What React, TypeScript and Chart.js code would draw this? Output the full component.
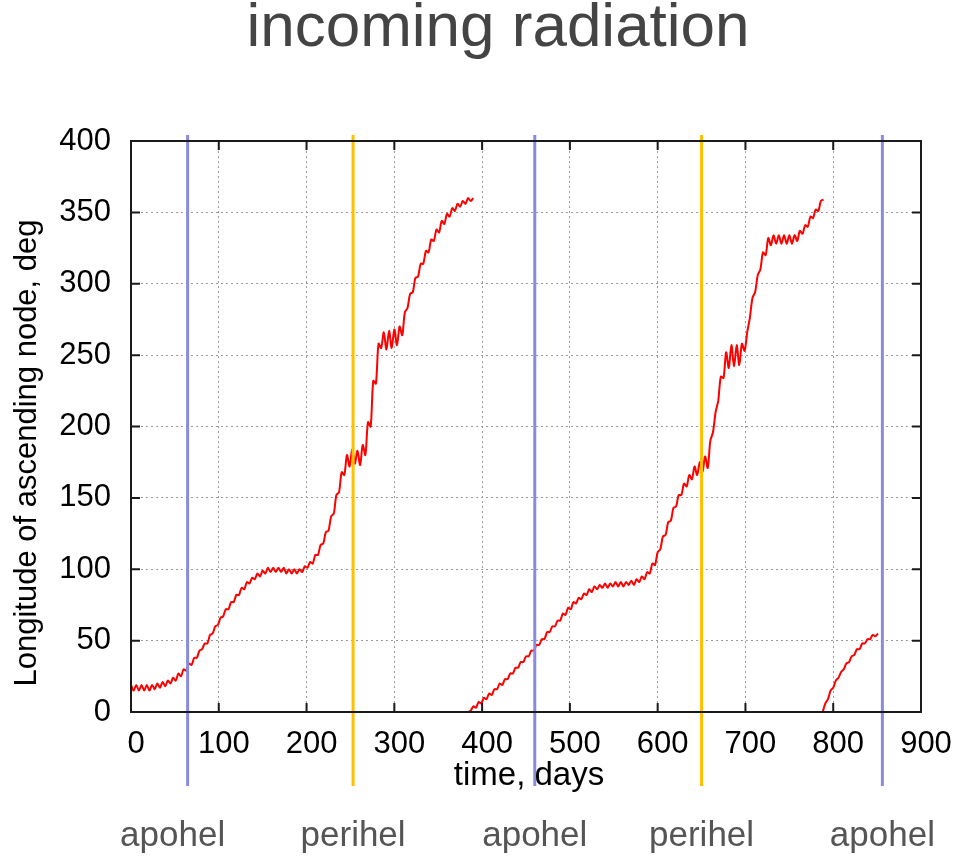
import React, { useEffect, useRef } from "react";
import { Chart, registerables } from "chart.js";

Chart.register(...registerables);

const CHART_TITLE = "incoming radiation";
const X_AXIS_TITLE = "time, days";
const Y_AXIS_TITLE = "Longitude of ascending node, deg";

const X_MIN = 0;
const X_MAX = 900;
const X_STEP = 100;
const Y_MIN = 0;
const Y_MAX = 400;
const Y_STEP = 50;

// [day, longitude deg]
const segment1: [number, number][] = [
  [0, 19], [3, 15], [6, 19], [9, 15], [12, 19], [15, 15], [18, 19], [21, 15], [24, 19], [27, 16],
  [30, 20], [33, 17], [36, 21], [39, 18], [42, 22], [45, 20], [48, 24], [51, 22], [54, 27], [57, 25],
  [60, 30], [63, 29], [66, 34], [69, 33], [72, 38], [75, 38], [78, 43], [81, 44], [84, 48], [87, 48],
  [90, 54], [93, 55], [96, 60], [99, 61], [102, 66], [105, 67], [108, 72], [111, 72], [114, 77], [117, 77],
  [120, 82], [123, 82], [126, 87], [129, 86], [132, 91], [135, 90], [138, 94], [141, 93], [144, 97], [147, 95],
  [150, 99], [153, 97], [156, 101], [159, 98], [162, 101], [165, 98], [168, 101], [171, 98], [174, 101], [177, 97],
  [180, 100], [183, 97], [186, 100], [189, 97], [192, 100], [195, 98], [198, 102], [201, 101], [204, 105], [207, 104],
  [210, 110], [213, 110], [216, 117], [219, 118], [222, 126], [225, 127], [228, 137], [231, 139], [234, 152], [237, 154],
  [240, 168], [243, 166], [246, 180], [249, 172], [252, 184], [255, 174], [258, 183], [261, 173], [264, 187], [267, 180],
  [270, 203], [273, 200], [276, 232], [279, 230], [282, 258], [285, 255], [288, 266], [291, 254], [294, 267], [297, 255],
  [300, 268], [303, 257], [306, 270], [309, 264], [312, 280], [315, 283], [318, 293], [321, 294], [324, 304], [327, 305],
  [330, 314], [333, 314], [336, 323], [339, 322], [342, 331], [345, 330], [348, 338], [351, 336], [354, 344], [357, 342],
  [360, 349], [363, 347], [366, 353], [369, 351], [372, 356], [375, 354], [378, 358], [381, 356], [384, 360], [387, 358],
  [390, 360],
];

const segment2: [number, number][] = [
  [384, 0], [387, 1], [390, 4], [393, 3], [396, 7], [399, 6], [402, 10], [405, 9], [408, 13], [411, 12],
  [414, 16], [417, 16], [420, 20], [423, 19], [426, 23], [429, 23], [432, 27], [435, 27], [438, 31], [441, 31],
  [444, 35], [447, 35], [450, 39], [453, 39], [456, 43], [459, 43], [462, 47], [465, 47], [468, 51], [471, 51],
  [474, 56], [477, 56], [480, 60], [483, 60], [486, 64], [489, 64], [492, 69], [495, 68], [498, 73], [501, 72],
  [504, 77], [507, 76], [510, 80], [513, 79], [516, 83], [519, 82], [522, 86], [525, 84], [528, 88], [531, 86],
  [534, 89], [537, 87], [540, 90], [543, 87], [546, 90], [549, 88], [552, 91], [555, 88], [558, 91], [561, 88],
  [564, 91], [567, 89], [570, 92], [573, 89], [576, 93], [579, 91], [582, 95], [585, 93], [588, 98], [591, 97],
  [594, 104], [597, 103], [600, 112], [603, 114], [606, 123], [609, 124], [612, 133], [615, 134], [618, 143], [621, 144],
  [624, 152], [627, 152], [630, 160], [633, 158], [636, 166], [639, 163], [642, 172], [645, 166], [648, 175], [651, 168],
  [654, 179], [657, 171], [660, 190], [663, 196], [666, 210], [669, 218], [672, 235], [675, 234], [678, 252], [681, 241],
  [684, 257], [687, 242], [690, 257], [693, 243], [696, 258], [699, 253], [702, 266], [705, 276], [708, 290], [711, 294],
  [714, 306], [717, 310], [720, 322], [723, 320], [726, 332], [729, 327], [732, 334], [735, 328], [738, 334], [741, 328],
  [744, 334], [747, 328], [750, 334], [753, 328], [756, 334], [759, 330], [762, 337], [765, 335], [768, 341], [771, 340],
  [774, 347], [777, 346], [780, 352], [783, 351], [786, 358], [789, 359],
];

const segment3: [number, number][] = [
  [788, 0], [791, 6], [794, 9], [797, 15], [800, 17], [803, 22], [806, 24], [809, 28], [812, 30], [815, 34],
  [818, 35], [821, 39], [824, 40], [827, 44], [830, 44], [833, 48], [836, 48], [839, 51], [842, 51], [845, 54],
  [848, 53], [851, 55],
];

const APOHEL_DAYS = [64.5, 460, 856];
const PERIHEL_DAYS = [253, 650];
const APOHEL_LABEL = "apohel";
const PERIHEL_LABEL = "perihel";

const FONT = '"Liberation Sans", Arial, Helvetica, sans-serif';

const overlayPlugin = {
  id: "overlay",
  afterDatasetsDraw(chart: any) {
    const { ctx, chartArea } = chart;
    const xs = chart.scales.x;
    const ys = chart.scales.y;
    const { left, right, top, bottom } = chartArea;
    ctx.save();

    // vertical marker lines
    const markers: { day: number; color: string; label: string; shift: number }[] = [];
    APOHEL_DAYS.forEach((d, i) => markers.push({ day: d, color: "#8a8ae0", label: APOHEL_LABEL, shift: i === 0 ? -15 : 0 }));
    PERIHEL_DAYS.forEach((d) => markers.push({ day: d, color: "#ffc000", label: PERIHEL_LABEL, shift: 0 }));
    markers.forEach((m) => {
      const x = xs.getPixelForValue(m.day);
      ctx.strokeStyle = m.color;
      ctx.lineWidth = 3;
      ctx.beginPath();
      ctx.moveTo(x, top - 6);
      ctx.lineTo(x, bottom + 74);
      ctx.stroke();
    });

    // frame
    ctx.strokeStyle = "#1a1a1a";
    ctx.lineWidth = 2;
    ctx.strokeRect(left, top, right - left, bottom - top);

    // inward ticks
    const tl = 9;
    ctx.beginPath();
    for (let v = X_MIN; v <= X_MAX; v += X_STEP) {
      const x = xs.getPixelForValue(v);
      ctx.moveTo(x, bottom);
      ctx.lineTo(x, bottom - tl);
      ctx.moveTo(x, top);
      ctx.lineTo(x, top + tl);
    }
    for (let v = Y_MIN; v <= Y_MAX; v += Y_STEP) {
      const y = ys.getPixelForValue(v);
      ctx.moveTo(left, y);
      ctx.lineTo(left + tl, y);
      ctx.moveTo(right, y);
      ctx.lineTo(right - tl, y);
    }
    ctx.stroke();

    // title
    ctx.fillStyle = "#444444";
    ctx.font = `62px ${FONT}`;
    ctx.textAlign = "center";
    ctx.textBaseline = "alphabetic";
    ctx.fillText(CHART_TITLE, 498, 46);

    // x axis title
    ctx.fillStyle = "#000000";
    ctx.font = `33px ${FONT}`;
    ctx.fillText(X_AXIS_TITLE, 529, 785);

    // y axis title
    ctx.save();
    ctx.translate(36, 453);
    ctx.rotate(-Math.PI / 2);
    ctx.font = `31px ${FONT}`;
    ctx.fillText(Y_AXIS_TITLE, 0, 0);
    ctx.restore();

    // marker labels
    ctx.fillStyle = "#555555";
    ctx.font = `35px ${FONT}`;
    markers.forEach((m) => {
      const x = xs.getPixelForValue(m.day) + m.shift;
      ctx.fillText(m.label, x, 846);
    });

    ctx.restore();
  },
};

const toPoints = (seg: [number, number][]) => seg.map(([x, y]) => ({ x, y }));

export default function App() {
  const ref = useRef<HTMLCanvasElement | null>(null);
  useEffect(() => {
    if (!ref.current) return;
    const lineStyle = {
      borderColor: "rgb(255,0,0)",
      borderWidth: 2,
      pointRadius: 0,
      tension: 0.3,
      fill: false,
    };
    const chart = new Chart(ref.current, {
      type: "line",
      data: {
        datasets: [
          { label: "seg1", data: toPoints(segment1), ...lineStyle },
          { label: "seg2", data: toPoints(segment2), ...lineStyle },
          { label: "seg3", data: toPoints(segment3), ...lineStyle },
        ],
      },
      options: {
        animation: false,
        responsive: false,
        devicePixelRatio: 1,
        parsing: false as any,
        layout: { padding: { top: 141, right: 35, left: 0, bottom: 0 } },
        plugins: { legend: { display: false }, tooltip: { enabled: false }, title: { display: false } },
        scales: {
          x: {
            type: "linear",
            min: X_MIN,
            max: X_MAX,
            afterFit: (s: any) => { s.height = 144; s.paddingLeft = 0; s.paddingRight = 0; },
            ticks: {
              stepSize: X_STEP,
              color: "#000",
              font: { family: FONT, size: 31 },
              padding: 14,
              labelOffset: 5,
              maxRotation: 0,
              autoSkip: false,
            },
            grid: { color: "#9a9a9a", lineWidth: 1, drawTicks: false },
            border: { display: false, dash: [2, 3] },
          },
          y: {
            type: "linear",
            min: Y_MIN,
            max: Y_MAX,
            afterFit: (s: any) => { s.width = 131; s.paddingTop = 0; s.paddingBottom = 0; },
            ticks: {
              stepSize: Y_STEP,
              color: "#000",
              font: { family: FONT, size: 31 },
              padding: 20,
              autoSkip: false,
            },
            grid: { color: "#9a9a9a", lineWidth: 1, drawTicks: false },
            border: { display: false, dash: [2, 3] },
          },
        },
      },
      plugins: [overlayPlugin],
    });
    return () => chart.destroy();
  }, []);
  return (
    <div style={{ position: "absolute", left: 0, top: 0, width: 956, height: 856, background: "#fff" }}>
      <canvas ref={ref} width={956} height={856} style={{ display: "block", width: 956, height: 856 }} />
    </div>
  );
}
